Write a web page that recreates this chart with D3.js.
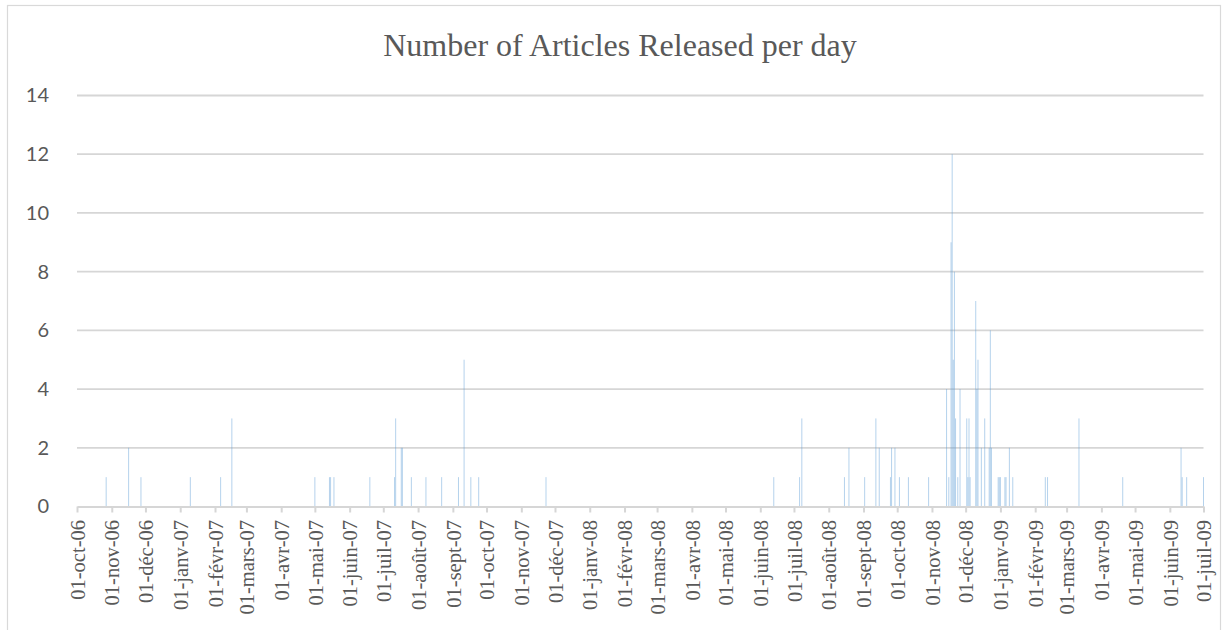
<!DOCTYPE html>
<html>
<head>
<meta charset="utf-8">
<script src="https://cdn.jsdelivr.net/npm/d3@7"></script>
<style>
  html, body { margin: 0; padding: 0; background: #ffffff; }
  svg { display: block; }
</style>
</head>
<body>
<svg id="chart" width="1226" height="630"></svg>
<script>
// Daily article counts (only days with at least one release)
const releaseDates = [
  "2006-10-27", "2006-11-16", "2006-11-27", "2007-01-10", "2007-02-06", "2007-02-16",
  "2007-05-01", "2007-05-14", "2007-05-15", "2007-05-18", "2007-06-19",
  "2007-07-11", "2007-07-12", "2007-07-17", "2007-07-18", "2007-07-26",
  "2007-08-08", "2007-08-22", "2007-09-06", "2007-09-11", "2007-09-17", "2007-09-24",
  "2007-11-23",
  "2008-06-13", "2008-07-06", "2008-07-08", "2008-08-15", "2008-08-19",
  "2008-09-02", "2008-09-12", "2008-09-15", "2008-09-25", "2008-09-26", "2008-09-29",
  "2008-10-03", "2008-10-11", "2008-10-29",
  "2008-11-14", "2008-11-16", "2008-11-18", "2008-11-19", "2008-11-20", "2008-11-21",
  "2008-11-22", "2008-11-24", "2008-11-26",
  "2008-12-02", "2008-12-03", "2008-12-04", "2008-12-05", "2008-12-10", "2008-12-11",
  "2008-12-12", "2008-12-15", "2008-12-18", "2008-12-22", "2008-12-23", "2008-12-24",
  "2008-12-30", "2008-12-31", "2009-01-01", "2009-01-05", "2009-01-06", "2009-01-09",
  "2009-01-12", "2009-02-10", "2009-02-12", "2009-03-12", "2009-04-20",
  "2009-06-11", "2009-06-12", "2009-06-16", "2009-07-01"
];
const articleCounts = [
  1, 2, 1, 1, 1, 3,
  1, 1, 1, 1, 1,
  1, 3, 2, 2, 1,
  1, 1, 1, 5, 1, 1,
  1,
  1, 1, 3, 1, 2,
  1, 3, 2, 1, 2, 2,
  1, 1, 1,
  4, 1, 9, 12, 5, 8,
  3, 1, 4,
  3, 1, 3, 1, 7, 4,
  5, 2, 3, 2, 6, 2,
  1, 1, 1, 1, 1, 2,
  1, 1, 1, 3, 1,
  2, 1, 1, 1
];

// Axis settings
const axisStart = "2006-10-01";
const axisEnd = "2009-07-01";
const yTicks = [0, 2, 4, 6, 8, 10, 12, 14];
const monthNames = ["janv", "févr", "mars", "avr", "mai", "juin",
                    "juil", "août", "sept", "oct", "nov", "déc"];
const chartTitle = "Number of Articles Released per day";

const parse = d3.utcParse("%Y-%m-%d");
const data = releaseDates.map((d, i) => ({ date: parse(d), count: articleCounts[i] }));

const svg = d3.select("#chart");
const W = 1226, H = 630;
const margin = { left: 77, right: W - 1203.5, top: 95.5, bottom: H - 506.5 };

// Outer chart frame
svg.append("rect")
  .attr("x", 7.5).attr("y", 5.5)
  .attr("width", 1213).attr("height", 640)
  .attr("fill", "#ffffff")
  .attr("stroke", "#d9d9d9").attr("stroke-width", 1.2);

const x = d3.scaleUtc()
  .domain([parse(axisStart), parse(axisEnd)])
  .range([margin.left, W - margin.right]);

const y = d3.scaleLinear()
  .domain([0, 14])
  .range([H - margin.bottom, margin.top]);

// Horizontal gridlines
svg.append("g")
  .selectAll("line")
  .data(yTicks.filter(t => t > 0))
  .join("line")
  .attr("x1", x.range()[0]).attr("x2", x.range()[1])
  .attr("y1", d => y(d)).attr("y2", d => y(d))
  .attr("stroke", "#d6d6d6").attr("stroke-width", 1.8);

// Y-axis labels
const yAxis = d3.axisLeft(y).tickValues(yTicks).tickSize(0).tickPadding(28);
const gy = svg.append("g").attr("transform", `translate(${x.range()[0]},0)`).call(yAxis);
gy.select(".domain").remove();
gy.selectAll("text")
  .attr("fill", "#595959")
  .style("font-family", "Lato, 'Open Sans', sans-serif")
  .style("font-size", "20px");

// Daily bars
const dayWidth = x(parse("2008-01-02")) - x(parse("2008-01-01"));
const barW = Math.max(1, dayWidth * 0.85);
svg.append("g")
  .selectAll("rect")
  .data(data)
  .join("rect")
  .attr("x", d => x(d.date) - barW / 2)
  .attr("width", barW)
  .attr("y", d => y(d.count))
  .attr("height", d => y(0) - y(d.count))
  .attr("fill", "#5b9bd5")
  .attr("fill-opacity", 0.45);

// X axis with monthly ticks
const fmt = d => "01-" + monthNames[d.getUTCMonth()] + "-" + d3.utcFormat("%y")(d);
const monthTicks = d3.utcMonth.range(parse(axisStart), d3.utcDay.offset(parse(axisEnd), 1));
const xAxis = d3.axisBottom(x)
  .tickValues(monthTicks)
  .tickFormat(fmt)
  .tickSize(6)
  .tickSizeOuter(0);
const gx = svg.append("g")
  .attr("transform", `translate(0,${y(0)})`)
  .call(xAxis);
gx.select(".domain").attr("stroke", "#d6d6d6").attr("stroke-width", 2);
gx.selectAll(".tick line").attr("stroke", "#d6d6d6").attr("stroke-width", 2);
gx.selectAll("text")
  .attr("fill", "#595959")
  .style("font-family", "'Liberation Serif', 'Times New Roman', serif")
  .style("font-size", "20.5px")
  .attr("text-anchor", "end")
  .attr("transform", "rotate(-90)")
  .attr("x", -13.5)
  .attr("y", 0)
  .attr("dy", "0.35em");

// Title
svg.append("text")
  .attr("x", 620).attr("y", 56)
  .attr("text-anchor", "middle")
  .attr("fill", "#595959")
  .style("font-family", "'Liberation Serif', 'Times New Roman', serif")
  .style("font-size", "32px")
  .text(chartTitle);
</script>
</body>
</html>
